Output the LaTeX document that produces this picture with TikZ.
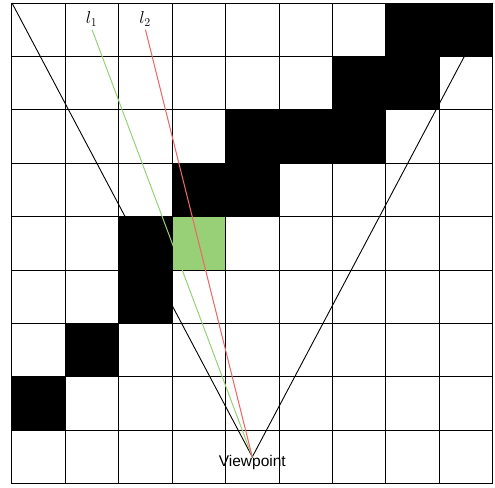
\documentclass[tikz,border=0pt]{standalone}
\usepackage{fontspec}
\newfontfamily\labelfont{Liberation Sans}
\definecolor{cellgreen}{HTML}{97D077}
\definecolor{raygreen}{HTML}{97D077}
\definecolor{rayred}{HTML}{F06666}
\begin{document}
\begin{tikzpicture}[x=53.4pt,y=-53.4pt,
  cone/.style={draw=black,line width=0.9pt},
  gridline/.style={draw=black,line width=1pt},
  blackcell/.style={fill=black},
  ray/.style={line width=1pt}]
\useasboundingbox (-0.2247,-0.0562) rectangle (9.045,9.064);
\coordinate (V) at (4.5,8.5);
\coordinate (TL) at (0,0);
\coordinate (TR) at (9,0);
\coordinate (G) at (1.5,0.5);
\coordinate (R) at (2.5,0.5);
% view cone
\draw[cone] (TL) -- (V) -- (TR);
% black cells
\foreach \c/\r in {7/0,8/0,6/1,7/1,4/2,5/2,6/2,3/3,4/3,2/4,2/5,1/6,0/7}
  \fill[blackcell] (\c,\r) rectangle ++(1,1);
\fill[cellgreen] (3,4) rectangle ++(1,1);
% grid
\foreach \i in {0,...,9} {
  \draw[gridline] (\i,0) -- (\i,9);
  \draw[gridline] (0,\i) -- (9,\i);
}
% rays
\draw[ray,draw=raygreen] (G) -- (V);
\draw[ray,draw=rayred] (R) -- (V);
% labels
\node[font=\fontsize{17}{19}\selectfont] (l1) at (1.49,0.30) {$l_1$};
\node[font=\fontsize{17}{19}\selectfont] (l2) at (2.49,0.30) {$l_2$};
\node[font=\labelfont\fontsize{15.5}{18}\selectfont,inner sep=0pt] (vp) at (4.5,8.6) {Viewpoint};
\end{tikzpicture}
\end{document}
